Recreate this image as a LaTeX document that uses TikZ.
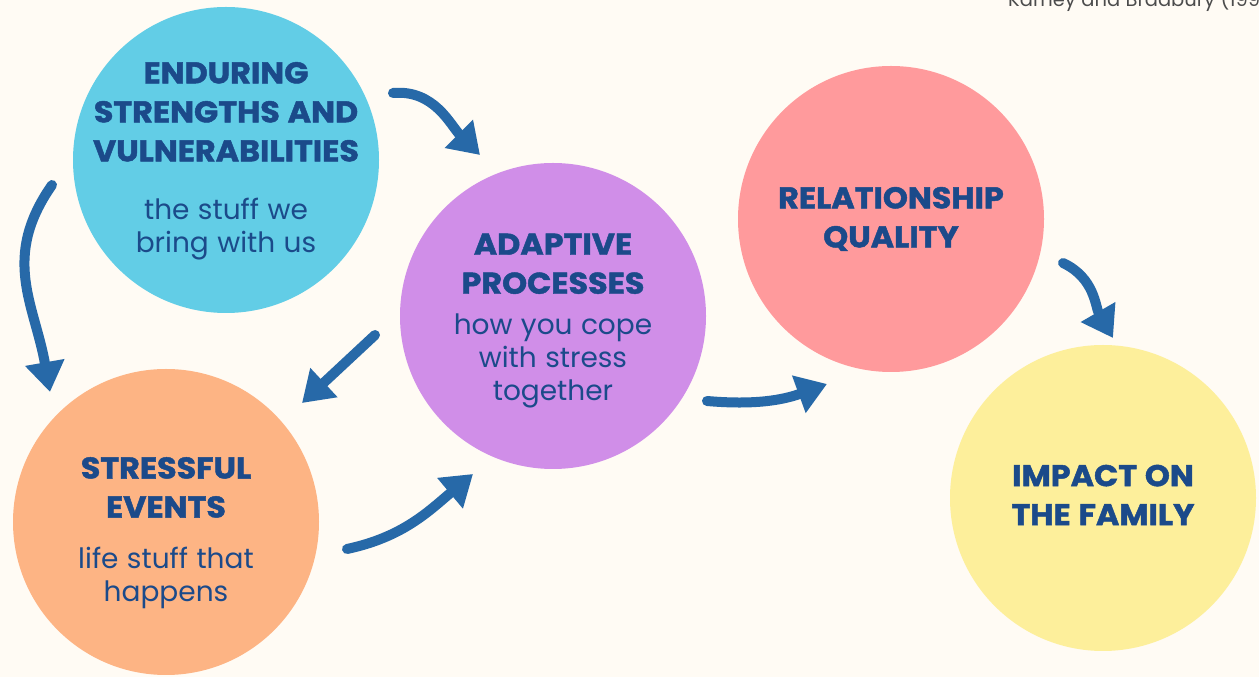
\documentclass[tikz,border=0pt]{standalone}
\usepackage{fontspec}
\setmainfont[BoldFeatures={FakeBold=1.5, FakeStretch=1.06}]{Poppins}
\usetikzlibrary{arrows.meta}

\definecolor{paper}{HTML}{FFFBF4}
\definecolor{ink}{HTML}{1B4A8A}
\definecolor{arrowblue}{HTML}{2769A8}
\definecolor{sky}{HTML}{62CDE6}
\definecolor{peach}{HTML}{FDB484}
\definecolor{lilac}{HTML}{D08EE8}
\definecolor{rose}{HTML}{FF9A9C}
\definecolor{butter}{HTML}{FDEF9B}

\newcommand{\heading}{\fontsize{30}{39}\selectfont\bfseries\spaceskip=0.26em\relax}
\newcommand{\subline}{\fontsize{28}{33}\selectfont\spaceskip=0.3em\relax}
\newcommand{\citefont}{\fontsize{19.5}{23}\selectfont\spaceskip=0.28em\relax}

\begin{document}
\begin{tikzpicture}[x=1pt, y=1pt,
    main/.style = {circle, minimum size=306pt, inner sep=0pt},
    words/.style = {inner sep=0pt, text width=300pt, align=center, text=ink},
    flow/.style = {draw=arrowblue, line width=10pt, line cap=round, -{Triangle[length=30pt,width=38pt]}}]
    \useasboundingbox (0,0) rectangle (1259,677);
    \clip (0,0) rectangle (1259,677);
    \fill[paper] (0,0) rectangle (1259,677);

    \node[anchor=base west, text=black!70, inner sep=0pt] (cite) at (1008,670) {\citefont Karney and Bradbury (1995)};

    \node[main, fill=sky] (esv) at (226,517) {};
    \node[main, fill=peach] (se) at (166,155) {};
    \node[main, fill=lilac] (ap) at (553,361) {};
    \node[main, fill=rose] (rq) at (891,458) {};
    \node[main, fill=butter] (impact) at (1103,179) {};

    \node[words] (esv-text) at ([yshift=-1pt]esv) {{\heading ENDURING\\STRENGTHS AND\\VULNERABILITIES\par}\vspace{25pt}{\subline the stuff we\\bring with us\par}};
    \node[words] (se-text) at ([yshift=-11pt]se) {{\heading STRESSFUL\\EVENTS\par}\vspace{18pt}{\subline life stuff that\\happens\par}};
    \node[words] (ap-text) at ([yshift=-5pt]ap) {{\heading ADAPTIVE\\PROCESSES\par}\vspace{8pt}{\subline how you cope\\with stress\\together\par}};
    \node[words] (rq-text) at (rq) {{\heading RELATIONSHIP\\QUALITY\par}};
    \node[words] (impact-text) at ([yshift=3pt]impact) {{\heading IMPACT ON\\THE FAMILY\par}};

    % arrow ends
    \coordinate (esv-out) at (393,584);
    \coordinate (ap-in) at (480,522);
    \coordinate (esv-down) at (52,492);
    \coordinate (se-in) at (50,285);
    \coordinate (ap-back) at (375,342);
    \coordinate (se-back) at (302,274);
    \coordinate (se-out) at (347,128);
    \coordinate (ap-up) at (473,203);
    \coordinate (ap-out) at (707,276);
    \coordinate (rq-in) at (827,293);
    \coordinate (rq-out) at (1063,414);
    \coordinate (impact-in) at (1113,339);

    \draw[flow] (esv-out) to[out=5, in=135] (ap-in);
    \draw[flow] (esv-down) to[out=235, in=100, looseness=1.1] (se-in);
    \draw[flow] (ap-back) -- (se-back);
    \draw[flow] (se-out) to[out=12, in=220] (ap-up);
    \draw[flow] (ap-out) to[out=-5, in=200] (rq-in);
    \draw[flow] (rq-out) to[out=-25, in=120] (impact-in);
\end{tikzpicture}
\end{document}
